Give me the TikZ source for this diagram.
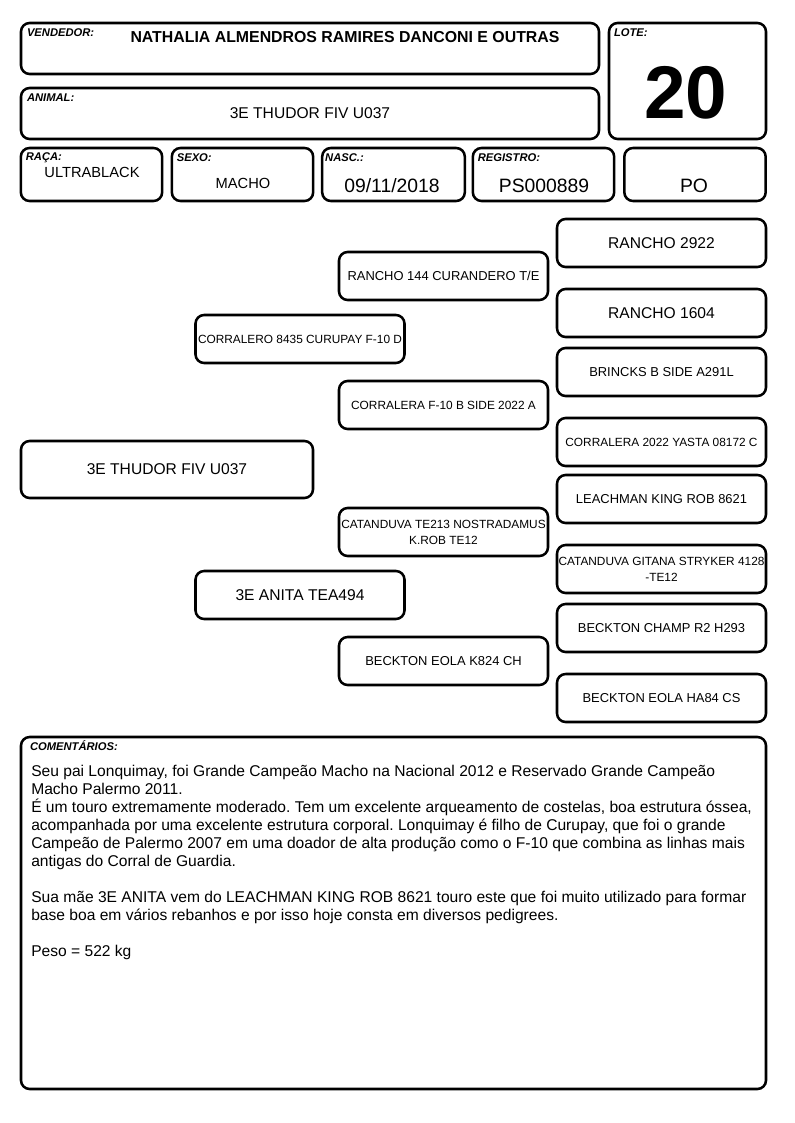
\documentclass[tikz,border=0pt]{standalone}
\usepackage{fontspec}
\setmainfont{Liberation Sans}
\frenchspacing
\tikzstyle{box} = [rectangle, 
draw=black, 
line width=1.9pt, 
rounded corners=6.5pt, 
fill=white, 
inner sep=0pt]
\tikzstyle{ped} = [box, 
minimum width=156.75pt, 
minimum height=36pt, 
align=center]
\tikzstyle{tag} = [anchor=base west, inner sep=0pt, font=\fontsize{8.4}{9}\selectfont\bfseries\itshape]
\tikzstyle{val} = [anchor=base, inner sep=0pt]
\tikzstyle{big} = [font=\fontsize{11.7}{13.5}\selectfont]
\tikzstyle{mid} = [font=\fontsize{9.7}{12}\selectfont]
\tikzstyle{small} = [font=\fontsize{8.9}{12}\selectfont]

\begin{document}
\begin{tikzpicture}[x=0.75pt, y=-0.75pt]
  \useasboundingbox (0,0) rectangle (794,1123);

  \node at (310,48.5) (vendor) [box, minimum width=433.5pt, minimum height=38.25pt] {};
  \node at (310,113.5) (animal) [box, minimum width=433.5pt, minimum height=38.25pt] {};
  \node at (687.5,81) (lot) [box, minimum width=117.75pt, minimum height=87pt] {};
  \node at (91.5,174.5) (breed) [box, minimum width=106pt, minimum height=39.75pt] {};
  \node at (242.5,174.5) (sex) [box, minimum width=106pt, minimum height=39.75pt] {};
  \node at (393.5,174.5) (birth) [box, minimum width=107pt, minimum height=39.75pt] {};
  \node at (543.5,174.5) (registry) [box, minimum width=106pt, minimum height=39.75pt] {};
  \node at (695,174.5) (grade) [box, minimum width=106pt, minimum height=39.75pt] {};

  \node at ([shift={(7,15)}]vendor.north west) (vendortag) [tag] {VENDEDOR:};
  \node at ([shift={(7,15)}]animal.north west) (animaltag) [tag] {ANIMAL:};
  \node at ([shift={(6,15)}]lot.north west) (lottag) [tag] {LOTE:};
  \node at ([shift={(6,14)}]breed.north west) (breedtag) [tag] {RAÇA:};
  \node at ([shift={(6,15)}]sex.north west) (sextag) [tag] {SEXO:};
  \node at ([shift={(4,15)}]birth.north west) (birthtag) [tag] {NASC.:};
  \node at ([shift={(6,15)}]registry.north west) (registrytag) [tag] {REGISTRO:};

  \node at (345,43) (vendorname) [val, font=\fontsize{11.9}{13.5}\selectfont\bfseries] {NATHALIA ALMENDROS RAMIRES DANCONI E OUTRAS};
  \node at (310,119) (animalname) [val, big] {3E THUDOR FIV U037};
  \node at (686,119) (lotnumber) [val, font=\fontsize{56}{56}\selectfont\bfseries] {20};
  \node at (92,178) (breedname) [val, font=\fontsize{11}{13}\selectfont] {ULTRABLACK};
  \node at (243,189) (sexname) [val, font=\fontsize{11}{13}\selectfont] {MACHO};
  \node at (392,193) (birthdate) [val, font=\fontsize{14.5}{16}\selectfont] {09/11/2018};
  \node at (544,193) (registrynumber) [val, font=\fontsize{14.5}{16}\selectfont] {PS000889};
  \node at (694,193) (gradename) [val, font=\fontsize{14.5}{16}\selectfont] {PO};

  \node at (167,469.5) (subject) [box, minimum width=219pt, minimum height=42.75pt, big] {3E THUDOR FIV U037};
  \node at (300,339) (sire) [ped, small] {CORRALERO 8435 CURUPAY F-10 D};
  \node at (300,595) (dam) [ped, big] {3E ANITA TEA494};

  \node at (443.5,276) (ss) [ped, mid] {RANCHO 144 CURANDERO T/E};
  \node at (443.5,405) (sd) [ped, small] {CORRALERA F-10 B SIDE 2022 A};
  \node at (443.5,532) (ds) [ped, small] {CATANDUVA TE213 NOSTRADAMUS\\K.ROB TE12};
  \node at (443.5,661) (dd) [ped, mid] {BECKTON EOLA K824 CH};

  \node at (661.5,243) (sss) [ped, big] {RANCHO 2922};
  \node at (661.5,313) (ssd) [ped, big] {RANCHO 1604};
  \node at (661.5,372) (sds) [ped, mid] {BRINCKS B SIDE A291L};
  \node at (661.5,442) (sdd) [ped, small] {CORRALERA 2022 YASTA 08172 C};
  \node at (661.5,499) (dss) [ped, mid] {LEACHMAN KING ROB 8621};
  \node at (661.5,569) (dsd) [ped, small] {CATANDUVA GITANA STRYKER 4128\\-TE12};
  \node at (661.5,628) (dds) [ped, mid] {BECKTON CHAMP R2 H293};
  \node at (661.5,698) (ddd) [ped, mid] {BECKTON EOLA HA84 CS};

  \node at (393.5,913) (notes) [box, minimum width=558.75pt, minimum height=264pt] {};
  \node at ([shift={(10,15)}]notes.north west) (notestag) [tag] {COMENTÁRIOS:};
  \node at (31,765) (notestext) [anchor=north west, inner sep=0pt, align=left, big] {Seu pai Lonquimay, foi Grande Campeão Macho na Nacional 2012 e Reservado Grande Campeão\\
Macho Palermo 2011.\\
É um touro extremamente moderado. Tem um excelente arqueamento de costelas, boa estrutura óssea,\\
acompanhada por uma excelente estrutura corporal. Lonquimay é filho de Curupay, que foi o grande\\
Campeão de Palermo 2007 em uma doador de alta produção como o F-10 que combina as linhas mais\\
antigas do Corral de Guardia.\\[13.5pt]
Sua mãe 3E ANITA vem do LEACHMAN KING ROB 8621 touro este que foi muito utilizado para formar\\
base boa em vários rebanhos e por isso hoje consta em diversos pedigrees.\\[13.5pt]
Peso = 522 kg};
\end{tikzpicture}
\end{document}
